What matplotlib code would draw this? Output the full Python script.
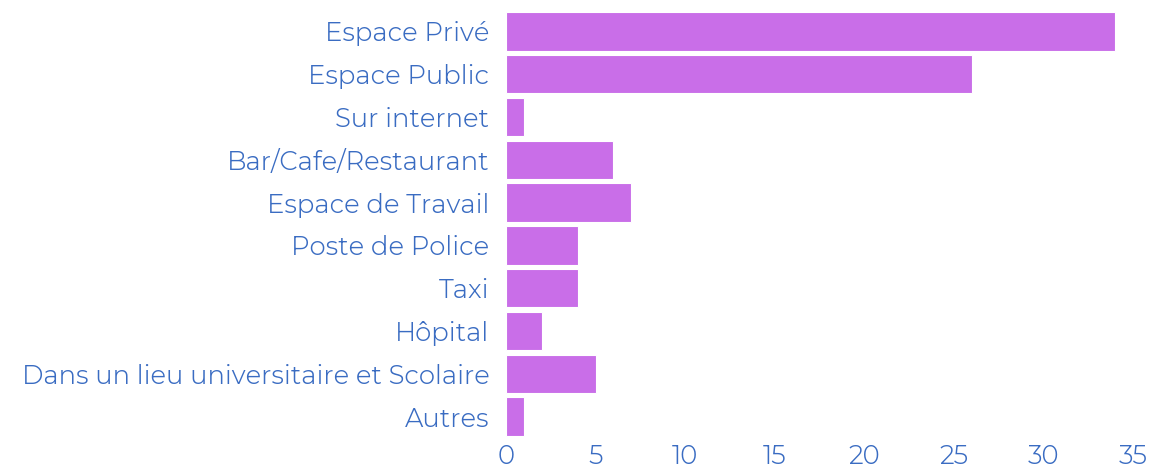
import matplotlib
matplotlib.use("Agg")
import matplotlib.pyplot as plt
from matplotlib import font_manager as fm

categories = ["Espace Privé", "Espace Public", "Sur internet", "Bar/Cafe/Restaurant",
              "Espace de Travail", "Poste de Police", "Taxi", "Hôpital",
              "Dans un lieu universitaire et Scolaire", "Autres"]
values = [34, 26, 1, 6, 7, 4, 4, 2, 5, 1]
xticks = [0, 5, 10, 15, 20, 25, 30, 35]

text_color = "#3a6cc2"
bar_color = "#c96ee8"

family = ['Lato', 'DejaVu Sans']
try:
    from fontTools.ttLib import TTFont
    from fontTools.varLib import instancer
    src = None
    for f in fm.fontManager.ttflist:
        if f.fname.endswith('Montserrat[wght].ttf'):
            src = f.fname
            break
    if src:
        vf = TTFont(src)
        inst = instancer.instantiateVariableFont(vf, {"wght": 340})
        for rec in inst['name'].names:
            if rec.nameID in (1, 4, 16):
                rec.string = "MontserratReg"
        inst.save("MontserratReg.ttf")
        fm.fontManager.addfont("MontserratReg.ttf")
        family = ['MontserratReg', 'DejaVu Sans']
except Exception:
    pass

plt.rcParams['font.family'] = family

fig = plt.figure(figsize=(11.52, 4.69), dpi=100)
ax = fig.add_axes([506/1152, 1-438/469, (1133-506)/1152, 428/469])
y = list(range(len(categories)))
ax.barh(y, values, height=0.9, color=bar_color, edgecolor="white", linewidth=0.8)
ax.set_ylim(len(categories)-0.5, -0.5)
ax.set_xlim(0, 35)
ax.set_yticks(y)
ax.set_yticklabels(categories, fontsize=18.6, color=text_color)
ax.set_xticks(xticks)
ax.set_xticklabels([str(t) for t in xticks], fontsize=18.6, color=text_color)
ax.tick_params(axis='y', length=0, pad=12)
ax.tick_params(axis='x', length=0, pad=4)
for s in ax.spines.values():
    s.set_visible(False)
fig.savefig("out.png", dpi=100, facecolor="white")
